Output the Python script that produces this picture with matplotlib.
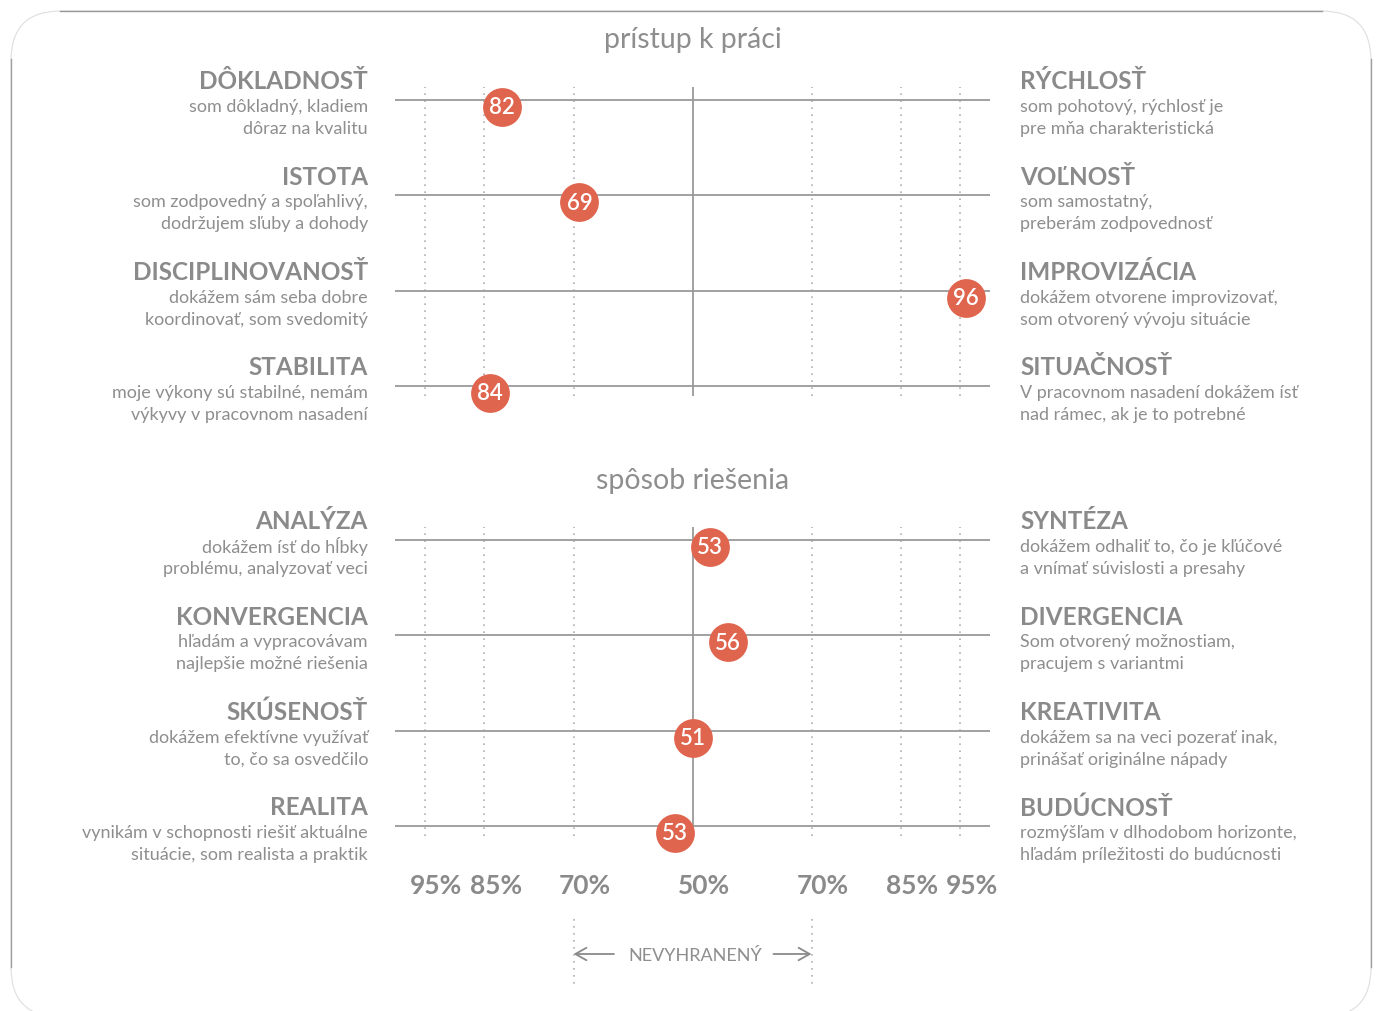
import matplotlib
matplotlib.use("Agg")
import matplotlib.pyplot as plt
from matplotlib import transforms
from matplotlib.patches import FancyBboxPatch
from matplotlib.lines import Line2D

plt.rcParams['font.family'] = ['Lato', 'DejaVu Sans']

# ---------------- data ----------------
section_titles = ["prístup k práci", "spôsob riešenia"]

top_left_titles = ["DÔKLADNOSŤ", "ISTOTA", "DISCIPLINOVANOSŤ", "STABILITA"]
top_left_desc = [["som dôkladný, kladiem", "dôraz na kvalitu"],
                 ["som zodpovedný a spoľahlivý,", "dodržujem sľuby a dohody"],
                 ["dokážem sám seba dobre", "koordinovať, som svedomitý"],
                 ["moje výkony sú stabilné, nemám", "výkyvy v pracovnom nasadení"]]
top_right_titles = ["RÝCHLOSŤ", "VOĽNOSŤ", "IMPROVIZÁCIA", "SITUAČNOSŤ"]
top_right_desc = [["som pohotový, rýchlosť je", "pre mňa charakteristická"],
                  ["som samostatný,", "preberám zodpovednosť"],
                  ["dokážem otvorene improvizovať,", "som otvorený vývoju situácie"],
                  ["V pracovnom nasadení dokážem ísť", "nad rámec, ak je to potrebné"]]
top_values = [82, 69, 96, 84]
top_sides = [-1, -1, 1, -1]          # -1 = left pole, +1 = right pole

bot_left_titles = ["ANALÝZA", "KONVERGENCIA", "SKÚSENOSŤ", "REALITA"]
bot_left_desc = [["dokážem ísť do hĺbky", "problému, analyzovať veci"],
                 ["hľadám a vypracovávam", "najlepšie možné riešenia"],
                 ["dokážem efektívne využívať", "to, čo sa osvedčilo"],
                 ["vynikám v schopnosti riešiť aktuálne", "situácie, som realista a praktik"]]
bot_right_titles = ["SYNTÉZA", "DIVERGENCIA", "KREATIVITA", "BUDÚCNOSŤ"]
bot_right_desc = [["dokážem odhaliť to, čo je kľúčové", "a vnímať súvislosti a presahy"],
                  ["Som otvorený možnostiam,", "pracujem s variantmi"],
                  ["dokážem sa na veci pozerať inak,", "prinášať originálne nápady"],
                  ["rozmýšľam v dlhodobom horizonte,", "hľadám príležitosti do budúcnosti"]]
bot_values = [53, 56, 51, 53]
bot_sides = [1, 1, 0, -1]

tick_positions = [-45, -35, -20, 0, 20, 35, 45]
tick_labels = ["95%", "85%", "70%", "50%", "70%", "85%", "95%"]
grid_positions = [-45, -35, -20, 20, 35, 45]
neutral_label = "NEVYHRANENÝ"
neutral_bounds = [-20, 20]

# ---------------- style ----------------
W, H = 1377, 1012
TXT = "#8e8e8e"
HEAD = "#8a8a8a"
LINE = "#9a9a9a"
DOT = "#b0b0b0"
RED = "#e0654f"

fig = plt.figure(figsize=(W / 100, H / 100), dpi=100)
fig.patch.set_facecolor("white")

def fx(px):
    return px / W

def fy(py):
    return 1 - py / H

# frame (rounded box, bottom edge just outside image)
box = FancyBboxPatch((fx(11), fy(1018)), fx(1371) - fx(11), fy(12) - fy(1018),
                     boxstyle="round,pad=0,rounding_size=0.036",
                     transform=fig.transFigure, fill=False, ec="#dedede", lw=0.8,
                     mutation_aspect=W / H)
fig.patches.append(box)
fig.add_artist(Line2D([fx(60), fx(1322)], [fy(12), fy(12)], color="#9a9a9a", lw=1.0,
                      transform=fig.transFigure))
fig.add_artist(Line2D([fx(11), fx(11)], [fy(60), fy(968)], color="#a0a0a0", lw=1.0,
                      transform=fig.transFigure))
fig.add_artist(Line2D([fx(1371), fx(1371)], [fy(60), fy(968)], color="#a0a0a0", lw=1.0,
                      transform=fig.transFigure))

X0, X1 = 395, 990
ROW = 95.3

def make_panel(top_line_px, title_px, title, lt, ld, rt, rd, values, sides):
    ax_top = top_line_px - 13
    ax_bot = top_line_px + 3 * ROW + 10
    ax = fig.add_axes([fx(X0), fy(ax_bot), fx(X1) - fx(X0), fy(ax_top) - fy(ax_bot)])
    ax.set_xlim(-50, 50)
    ax.set_ylim((ax_bot - top_line_px) / ROW, (ax_top - top_line_px) / ROW)
    ax.axis("off")
    n = len(values)
    for i in range(n):
        ax.plot([-50, 50], [i, i], color=LINE, lw=1.3, solid_capstyle="butt", zorder=2)
    for g in grid_positions:
        ax.axvline(g, color=DOT, lw=1.2, ls=(0, (1, 3.2)), zorder=1)
    ax.axvline(0, color=LINE, lw=1.3, zorder=2)
    xs = [s * (v - 50) for v, s in zip(values, sides)]
    ys = [i + 7 / ROW for i in range(n)]
    ax.scatter(xs, ys, s=780, color=RED, zorder=4, linewidths=0, clip_on=False)
    for x, y, v in zip(xs, ys, values):
        ax.text(x, y, str(v), color="white", fontsize=16, fontweight="semibold",
                ha="center", va="center", zorder=5, clip_on=False)
    xl = (368 - 692.5) / 5.95
    xr = (1020 - 692.5) / 5.95
    for i in range(n):
        ax.text(xl, i - 19 / ROW, lt[i], ha="right", va="center", fontsize=17.5,
                fontweight="bold", color=HEAD, clip_on=False)
        ax.text(xr, i - 19 / ROW, rt[i], ha="left", va="center", fontsize=17.5,
                fontweight="bold", color=HEAD, clip_on=False)
        for k in range(2):
            ax.text(xl, i + (6 + 22 * k) / ROW, ld[i][k], ha="right", va="center",
                    fontsize=13, color=TXT, clip_on=False)
            ax.text(xr, i + (6 + 22 * k) / ROW, rd[i][k], ha="left", va="center",
                    fontsize=13, color=TXT, clip_on=False)
    fig.text(fx(692.5), fy(title_px), title, ha="center", va="center", fontsize=20.5,
             color=TXT)
    return ax

ax1 = make_panel(101, 40, section_titles[0], top_left_titles, top_left_desc,
                 top_right_titles, top_right_desc, top_values, top_sides)
ax2 = make_panel(541, 481, section_titles[1], bot_left_titles, bot_left_desc,
                 bot_right_titles, bot_right_desc, bot_values, bot_sides)

# percent labels
bt = transforms.blended_transform_factory(ax2.transData, fig.transFigure)
for p, lab in zip(tick_positions, tick_labels):
    fig.text(p + 11.5 / 5.95, fy(886), lab, transform=bt, ha="center", va="center",
             fontsize=19, fontweight="bold", color=HEAD)

# neutral zone
for b in neutral_bounds:
    fig.add_artist(Line2D([b, b], [fy(920), fy(988)], transform=bt, color=DOT, lw=1.2,
                          ls=(0, (1, 3.2))))
fig.text(0.4, fy(956), neutral_label, transform=bt, ha="center", va="center",
         fontsize=13, color=TXT)
for b, start in zip(neutral_bounds, [-13.2, 13.6]):
    ax2.annotate("", xy=(b, fy(955)), xycoords=("data", "figure fraction"),
                 xytext=(start, fy(955)), textcoords=("data", "figure fraction"),
                 arrowprops=dict(arrowstyle="->,head_length=0.8,head_width=0.45",
                                 color="#8a8a8a", lw=1.3, shrinkA=0, shrinkB=0),
                 annotation_clip=False)

fig.savefig("out.png", dpi=100, facecolor="white")
